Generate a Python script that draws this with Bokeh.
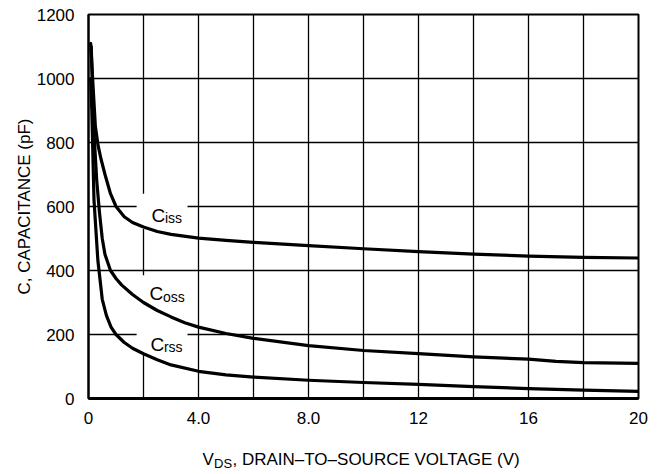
import numpy as np
from bokeh.plotting import figure
from bokeh.layouts import column
from bokeh.models import ColumnDataSource, Range1d
from bokeh.embed import file_html
from bokeh.resources import INLINE
from bokeh.core.properties import value

# ---- data ----
vds_iss = [0.08, 0.15, 0.25, 0.35, 0.45, 0.6, 0.8, 1.0, 1.3, 1.6, 2.0, 2.5, 3.0, 4.0, 5.0, 6.0, 8.0, 10.0, 12.0, 14.0, 16.0, 18.0, 20.0]
c_iss = [1110, 1000, 850, 790, 750, 700, 640, 600, 568, 550, 536, 522, 513, 501, 494, 488, 478, 468, 459, 451, 445, 441, 439]

vds_oss = [0.1, 0.15, 0.2, 0.3, 0.4, 0.5, 0.6, 0.8, 1.0, 1.2, 1.6, 2.0, 2.5, 3.0, 3.5, 4.0, 5.0, 6.0, 8.0, 10.0, 12.0, 14.0, 16.0, 17.0, 18.0, 20.0]
c_oss = [1100, 950, 830, 680, 580, 500, 450, 400, 375, 355, 325, 300, 275, 255, 237, 223, 203, 188, 165, 150, 140, 130, 123, 116, 112, 110]

vds_rss = [0.08, 0.12, 0.2, 0.34, 0.5, 0.65, 0.82, 1.0, 1.3, 1.6, 2.0, 2.5, 3.0, 4.0, 5.0, 6.0, 8.0, 10.0, 12.0, 14.0, 16.0, 18.0, 20.0]
c_rss = [1000, 900, 620, 432, 310, 260, 223, 200, 175, 157, 140, 121, 105, 85, 74, 67, 57, 50, 44, 37, 31, 26, 22]

x_ticks = [0, 4, 8, 12, 16, 20]
x_tick_labels = ["0", "4.0", "8.0", "12", "16", "20"]
y_ticks = [0, 200, 400, 600, 800, 1000, 1200]
x_grid = [0, 2, 4, 6, 8, 10, 12, 14, 16, 18, 20]

label_main = ["C", "C", "C"]
label_sub = ["iss", "oss", "rss"]

y_title = "C, CAPACITANCE (pF)"
x_title_main = "V"
x_title_sub = "DS"
x_title_rest = ", DRAIN\u2013TO\u2013SOURCE VOLTAGE (V)"

FONT = "Liberation Sans"
W = 655
LEFT = 88
FW = 550
RIGHT = W - LEFT - FW

p = figure(width=W, height=434, x_range=(0, 20), y_range=(0, 1200), title=None,
           output_backend="svg", toolbar_location=None,
           min_border_left=LEFT, min_border_right=RIGHT, min_border_top=14,
           min_border_bottom=36)
p.background_fill_color = "white"
p.border_fill_color = "white"
p.outline_line_color = "black"
p.outline_line_width = 2

p.xaxis.ticker = x_ticks
p.xaxis.major_label_overrides = {t: s for t, s in zip(x_ticks, x_tick_labels)}
p.yaxis.ticker = y_ticks
for ax in (p.xaxis, p.yaxis):
    ax.major_tick_line_color = None
    ax.minor_tick_line_color = None
    ax.major_label_text_font = FONT
    ax.major_label_text_font_size = "17px"
    ax.major_label_text_color = "black"
p.xaxis.axis_line_color = "black"
p.xaxis.axis_line_width = 3
p.yaxis.axis_line_color = "black"
p.yaxis.axis_line_width = 2
p.xaxis.major_label_standoff = 7
p.yaxis.major_label_standoff = 8
p.yaxis.axis_label = y_title
p.yaxis.axis_label_text_font = FONT
p.yaxis.axis_label_text_font_size = "17px"
p.yaxis.axis_label_text_font_style = "normal"
p.yaxis.axis_label_text_color = "black"
p.yaxis.axis_label_standoff = 0

p.xgrid.ticker = x_grid
p.ygrid.ticker = y_ticks
for g in (p.xgrid, p.ygrid):
    g.grid_line_color = "black"
    g.grid_line_alpha = 1.0
    g.grid_line_width = 1.3

# white boxes behind the curve labels
p.quad(left=[1.75, 1.75, 1.75], right=[3.6, 3.6, 3.6],
       bottom=[530, 245, 140], top=[640, 385, 262],
       fill_color="white", line_color=None)

for vx, cy in ((vds_iss, c_iss), (vds_oss, c_oss), (vds_rss, c_rss)):
    p.line(vx, cy, line_color="black", line_width=3.2, line_join="round", line_cap="round")

lab_x = [2.29, 2.22, 2.25]
lab_y = [572, 328, 169]
sub_y = [563, 316, 160]
src = ColumnDataSource(dict(x=lab_x, y=lab_y, ys=sub_y, t=label_main, s=label_sub))
p.text(x="x", y="y", text="t", source=src, text_font=value(FONT),
       text_font_size=value("19px"), text_baseline="alphabetic", text_align="left",
       text_color="black")
p.text(x="x", y="ys", text="s", source=src, text_font=value(FONT),
       text_font_size=value("14px"), text_baseline="alphabetic", text_align="left",
       text_color="black", x_offset=13.5)

# x-axis title strip: its frame is aligned with the main frame, x in page pixels
SH = 38
t = figure(width=W, height=SH, x_range=Range1d(LEFT, LEFT + FW), y_range=Range1d(SH, 0),
           title=None, output_backend="svg", toolbar_location=None,
           x_axis_location=None, y_axis_location=None,
           min_border_left=LEFT, min_border_right=RIGHT,
           min_border_top=0, min_border_bottom=0)
t.outline_line_color = None
t.xgrid.visible = False
t.ygrid.visible = False
t.text(x=[202], y=[25], text=[x_title_main], text_font=value(FONT),
       text_font_size=value("17px"), text_baseline="alphabetic", text_align="left",
       text_color="black")
t.text(x=[213.5], y=[29], text=[x_title_sub], text_font=value(FONT),
       text_font_size=value("13px"), text_baseline="alphabetic", text_align="left",
       text_color="black")
t.text(x=[232], y=[25], text=[x_title_rest], text_font=value(FONT),
       text_font_size=value("17px"), text_baseline="alphabetic", text_align="left",
       text_color="black")

layout = column(p, t, spacing=0)
open("out.html", "w").write(file_html(layout, INLINE))
